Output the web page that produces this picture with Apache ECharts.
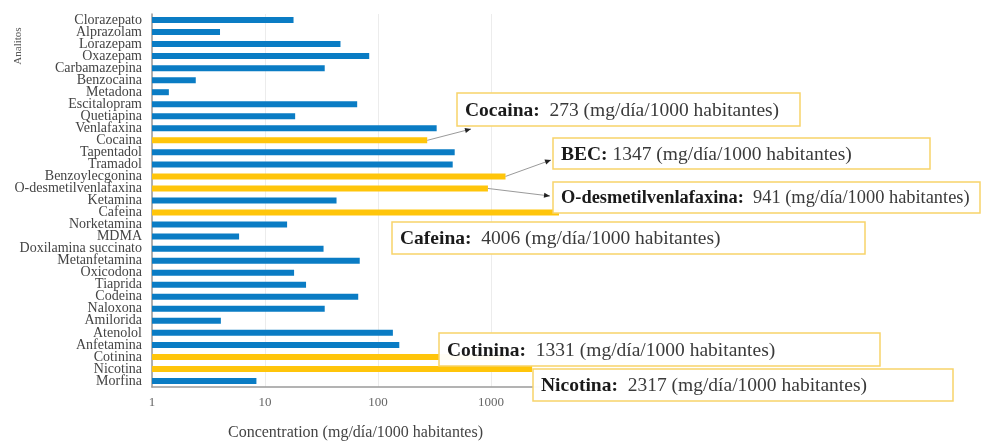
<!DOCTYPE html>
<html>
<head>
<meta charset="utf-8">
<script src="https://cdn.jsdelivr.net/npm/echarts@6/dist/echarts.min.js"></script>
<style>
    html, body { margin: 0; padding: 0; background: #fff; }
    #main { width: 990px; height: 446px; }
</style>
</head>
<body>
<div id="main"></div>
<script>
var categories = ['Clorazepato', 'Alprazolam', 'Lorazepam', 'Oxazepam', 'Carbamazepina', 'Benzocaina',
    'Metadona', 'Escitalopram', 'Quetiapina', 'Venlafaxina', 'Cocaina', 'Tapentadol', 'Tramadol',
    'Benzoylecgonina', 'O-desmetilvenlafaxina', 'Ketamina', 'Cafeina', 'Norketamina', 'MDMA',
    'Doxilamina succinato', 'Metanfetamina', 'Oxicodona', 'Tiaprida', 'Codeina', 'Naloxona',
    'Amilorida', 'Atenolol', 'Anfetamina', 'Cotinina', 'Nicotina', 'Morfina'];
var values = [17.9, 4.0, 46.6, 83.7, 33.8, 2.44,
    1.41, 65.5, 18.5, 331, 273, 478, 459,
    1347, 941, 43, 4006, 15.7, 5.9,
    33, 69, 18.1, 23.1, 66.9, 33.8,
    4.07, 135.6, 154.5, 1331, 2317, 8.4];
var highlighted = ['Cocaina', 'Benzoylecgonina', 'O-desmetilvenlafaxina', 'Cafeina', 'Cotinina', 'Nicotina'];
var tickLabels = ['1', '10', '100', '1000'];

// call-out texts
var noteNames = ['Cocaina', 'BEC', 'O-desmetilvenlafaxina', 'Cafeina', 'Cotinina', 'Nicotina'];
var noteValues = [273, 1347, 941, 4006, 1331, 2317];
var noteTargets = ['Cocaina', 'Benzoylecgonina', 'O-desmetilvenlafaxina', 'Cafeina', 'Cotinina', 'Nicotina'];
var unit = '(mg/día/1000 habitantes)';

var blue = '#0a7cc4', gold = '#ffc50a', boxLine = '#f8d36a';
var serif = '"Liberation Serif", "DejaVu Serif", serif';

var chart = echarts.init(document.getElementById('main'));

option = {
    animation: false,
    backgroundColor: '#fff',
    grid: { left: 152, top: 14, width: 407, height: 386 },
    xAxis: {
        type: 'log',
        logBase: 10,
        min: 1,
        max: 4006,
        name: 'Concentration (mg/día/1000 habitantes)',
        nameLocation: 'middle',
        nameGap: 38,
        nameTextStyle: { fontFamily: serif, fontSize: 16, color: '#444' },
        axisLine: { show: true, lineStyle: { color: '#9a9a9a', width: 1.5 } },
        axisTick: { show: false },
        axisLabel: {
            fontFamily: serif, fontSize: 13, color: '#666', margin: 9,
            formatter: function (v) {
                var s = String(Math.round(v));
                return tickLabels.indexOf(s) >= 0 ? s : '';
            }
        },
        splitLine: { show: true, showMaxLine: false, lineStyle: { color: '#ececec', width: 1 } }
    },
    yAxis: {
        type: 'category',
        data: categories,
        inverse: true,
        axisLine: { show: true, lineStyle: { color: '#9a9a9a', width: 1.5 } },
        axisTick: { show: false },
        axisLabel: { interval: 0, fontFamily: serif, fontSize: 14, color: '#444', margin: 10 }
    },
    series: [{
        type: 'bar',
        barWidth: 6,
        data: values.map(function (v, i) {
            return { value: v, itemStyle: { color: highlighted.indexOf(categories[i]) >= 0 ? gold : blue } };
        })
    }]
};
chart.setOption(option);

// box layout: [x, y, w, h, font size]; arrow landing points (null = no arrow)
var boxes = [
    [457, 93, 343, 33, 19.5],
    [553, 138, 377, 31, 19.5],
    [553, 182, 427, 31, 18.4],
    [392, 222, 473, 32, 19.5],
    [439, 333, 441, 33, 19.5],
    [533, 369, 420, 32, 19.5]
];
var arrowEnds = [[471, 129], [551, 160], [550, 196], null, null, null];

var graphics = [{
    type: 'text', x: 18, y: 46, rotation: Math.PI / 2,
    style: { text: 'Analitos', fontFamily: serif, fontSize: 11, fill: '#555', align: 'center', verticalAlign: 'middle' }
}];

function arrowHead(p0, p1) {
    var a = Math.atan2(p1[1] - p0[1], p1[0] - p0[0]);
    var L = 6, W = 2.6;
    var bx = p1[0] - L * Math.cos(a), by = p1[1] - L * Math.sin(a);
    return [p1, [bx - W * Math.sin(a), by + W * Math.cos(a)], [bx + W * Math.sin(a), by - W * Math.cos(a)]];
}

for (var i = 0; i < noteNames.length; i++) {
    var b = boxes[i];
    graphics.push({
        type: 'rect', z: 10,
        shape: { x: b[0], y: b[1], width: b[2], height: b[3] },
        style: { fill: 'rgba(255,255,255,0.96)', stroke: boxLine, lineWidth: 1.5 }
    });
    var gap = noteNames[i] === 'BEC' ? ' ' : '  ';
    graphics.push({
        type: 'text', z: 11, x: b[0] + 8, y: b[1] + b[3] / 2 + 1,
        style: {
            text: '{b|' + noteNames[i] + ':}' + gap + '{n|' + noteValues[i] + ' ' + unit + '}',
            verticalAlign: 'middle',
            fontFamily: serif, fontSize: b[4],
            rich: {
                b: { fontFamily: serif, fontSize: b[4], fontWeight: 'bold', fill: '#1a1a1a' },
                n: { fontFamily: serif, fontSize: b[4], fill: '#3a3a3a' }
            }
        }
    });
    if (arrowEnds[i]) {
        var idx = categories.indexOf(noteTargets[i]);
        var p0 = chart.convertToPixel({ seriesIndex: 0 }, [values[idx], idx]);
        var p1 = arrowEnds[i];
        graphics.push({
            type: 'line', z: 9,
            shape: { x1: p0[0], y1: p0[1], x2: p1[0], y2: p1[1] },
            style: { stroke: '#9a9a9a', lineWidth: 1 }
        });
        graphics.push({
            type: 'polygon', z: 9,
            shape: { points: arrowHead(p0, p1) },
            style: { fill: '#222' }
        });
    }
}

chart.setOption({ graphic: graphics });
</script>
</body>
</html>
